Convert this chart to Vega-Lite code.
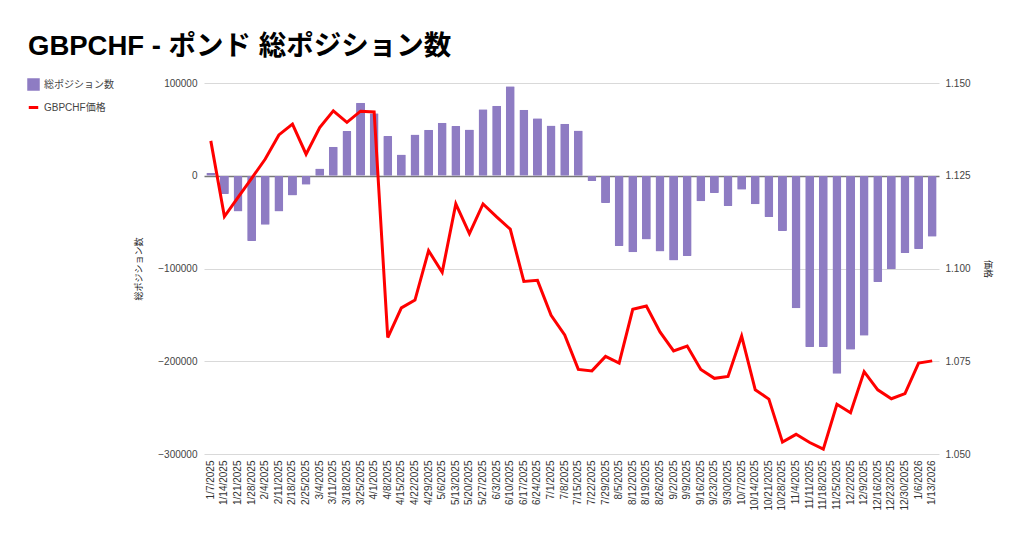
{
  "$schema": "https://vega.github.io/schema/vega-lite/v6.json",
  "autosize": "none",
  "width": 735,
  "height": 371,
  "padding": {"left": 204, "top": 83, "right": 85, "bottom": 83},
  "background": "white",
  "config": {
    "font": "Liberation Sans, Noto Sans CJK JP",
    "view": {"stroke": null}
  },
  "title": {
    "text": "GBPCHF - ポンド 総ポジション数",
    "anchor": "start",
    "frame": "group",
    "dx": -176,
    "offset": 18,
    "fontSize": 27.5,
    "fontWeight": "bold",
    "color": "#000000",
    "font": "Liberation Sans, Noto Sans CJK JP"
  },
  "data": {
    "values": [
      {"date": "1/7/2025", "pos": 3200, "price": 1.1344},
      {"date": "1/14/2025", "pos": -19600, "price": 1.1140},
      {"date": "1/21/2025", "pos": -38600, "price": 1.1192},
      {"date": "1/28/2025", "pos": -70400, "price": 1.1243},
      {"date": "2/4/2025", "pos": -52900, "price": 1.1295},
      {"date": "2/11/2025", "pos": -38600, "price": 1.1360},
      {"date": "2/18/2025", "pos": -21400, "price": 1.1389},
      {"date": "2/25/2025", "pos": -9600, "price": 1.1308},
      {"date": "3/4/2025", "pos": 7900, "price": 1.1380},
      {"date": "3/11/2025", "pos": 31400, "price": 1.1425},
      {"date": "3/18/2025", "pos": 48200, "price": 1.1394},
      {"date": "3/25/2025", "pos": 78600, "price": 1.1424},
      {"date": "4/1/2025", "pos": 67500, "price": 1.1422},
      {"date": "4/8/2025", "pos": 42900, "price": 1.0814},
      {"date": "4/15/2025", "pos": 22900, "price": 1.0894},
      {"date": "4/22/2025", "pos": 44600, "price": 1.0915},
      {"date": "4/29/2025", "pos": 49600, "price": 1.1048},
      {"date": "5/6/2025", "pos": 57100, "price": 1.0990},
      {"date": "5/13/2025", "pos": 53600, "price": 1.1174},
      {"date": "5/20/2025", "pos": 50000, "price": 1.1094},
      {"date": "5/27/2025", "pos": 71800, "price": 1.1174},
      {"date": "6/3/2025", "pos": 75400, "price": 1.1139},
      {"date": "6/10/2025", "pos": 96400, "price": 1.1106},
      {"date": "6/17/2025", "pos": 71100, "price": 1.0965},
      {"date": "6/24/2025", "pos": 62100, "price": 1.0968},
      {"date": "7/1/2025", "pos": 54300, "price": 1.0874},
      {"date": "7/8/2025", "pos": 56100, "price": 1.0821},
      {"date": "7/15/2025", "pos": 48900, "price": 1.0728},
      {"date": "7/22/2025", "pos": -5700, "price": 1.0724},
      {"date": "7/29/2025", "pos": -29300, "price": 1.0763},
      {"date": "8/5/2025", "pos": -75700, "price": 1.0745},
      {"date": "8/12/2025", "pos": -82500, "price": 1.0890},
      {"date": "8/19/2025", "pos": -68600, "price": 1.0899},
      {"date": "8/26/2025", "pos": -81800, "price": 1.0829},
      {"date": "9/2/2025", "pos": -91400, "price": 1.0778},
      {"date": "9/9/2025", "pos": -86400, "price": 1.0791},
      {"date": "9/16/2025", "pos": -27500, "price": 1.0728},
      {"date": "9/23/2025", "pos": -18600, "price": 1.0704},
      {"date": "9/30/2025", "pos": -32500, "price": 1.0709},
      {"date": "10/7/2025", "pos": -15000, "price": 1.0818},
      {"date": "10/14/2025", "pos": -30700, "price": 1.0673},
      {"date": "10/21/2025", "pos": -44600, "price": 1.0648},
      {"date": "10/28/2025", "pos": -59600, "price": 1.0532},
      {"date": "11/4/2025", "pos": -142900, "price": 1.0553},
      {"date": "11/11/2025", "pos": -184600, "price": 1.0531},
      {"date": "11/18/2025", "pos": -184600, "price": 1.0513},
      {"date": "11/25/2025", "pos": -213600, "price": 1.0634},
      {"date": "12/2/2025", "pos": -187500, "price": 1.0611},
      {"date": "12/9/2025", "pos": -172500, "price": 1.0722},
      {"date": "12/16/2025", "pos": -114600, "price": 1.0673},
      {"date": "12/23/2025", "pos": -100700, "price": 1.0649},
      {"date": "12/30/2025", "pos": -83200, "price": 1.0663},
      {"date": "1/6/2026", "pos": -78900, "price": 1.0745},
      {"date": "1/13/2026", "pos": -65700, "price": 1.0751}
    ]
  },
  "encoding": {
    "x": {
      "field": "date",
      "type": "nominal",
      "sort": null,
      "scale": {"paddingInner": 0.34, "paddingOuter": 0.17},
      "axis": {
        "title": null,
        "labelAngle": -90,
        "labelFontSize": 10,
        "labelColor": "#333333",
        "labelPadding": 6,
        "ticks": false,
        "domain": false,
        "grid": false
      }
    }
  },
  "layer": [
    {
      "mark": {"type": "bar", "cornerRadius": 1},
      "encoding": {
        "y": {
          "field": "pos",
          "type": "quantitative",
          "scale": {"domain": [-300000, 100000], "nice": false},
          "axis": {
            "title": "総ポジション数",
            "titleFontSize": 9,
            "titleFontWeight": "normal",
            "titleColor": "#222222",
            "titlePadding": 14,
            "values": [-300000, -200000, -100000, 0, 100000],
            "format": "d",
            "labelFontSize": 10,
            "labelColor": "#444444",
            "labelPadding": 7,
            "ticks": false,
            "domain": false,
            "grid": true,
            "gridColor": {"condition": {"test": "datum.value === 0", "value": "#777777"}, "value": "#d9d9d9"},
            "gridWidth": {"condition": {"test": "datum.value === 0", "value": 1.5}, "value": 1}
          }
        },
        "color": {
          "datum": "総ポジション数",
          "type": "nominal",
          "scale": {"domain": ["総ポジション数", "GBPCHF価格"], "range": ["#8e7cc3", "#ff0000"]},
          "legend": {
            "title": null,
            "orient": "none",
            "legendX": -177,
            "legendY": -5,
            "labelFontSize": 10,
            "labelColor": "#444444",
            "rowPadding": 5,
            "symbolSize": 90,
            "encode": {
              "symbols": {
                "update": {
                  "shape": {"signal": "datum.value === 'GBPCHF価格' ? 'stroke' : 'square'"},
                  "fill": {"signal": "datum.value === 'GBPCHF価格' ? 'transparent' : '#8e7cc3'"},
                  "stroke": {"signal": "datum.value === 'GBPCHF価格' ? '#ff0000' : 'transparent'"},
                  "strokeWidth": {"value": 3}
                }
              }
            }
          }
        }
      }
    },
    {
      "mark": {"type": "line", "strokeWidth": 3, "color": "#ff0000"},
      "encoding": {
        "y": {
          "field": "price",
          "type": "quantitative",
          "scale": {"domain": [1.05, 1.15], "nice": false, "zero": false},
          "axis": {
            "orient": "right",
            "title": "価格",
            "titleFontSize": 9,
            "titleFontWeight": "normal",
            "titleColor": "#222222",
            "titlePadding": 12,
            "values": [1.05, 1.075, 1.1, 1.125, 1.15],
            "format": ".3f",
            "labelFontSize": 10,
            "labelColor": "#444444",
            "labelPadding": 6,
            "ticks": false,
            "domain": false,
            "grid": false
          }
        },
        "color": {"datum": "GBPCHF価格", "type": "nominal"}
      }
    }
  ],
  "resolve": {"scale": {"y": "independent"}}
}
